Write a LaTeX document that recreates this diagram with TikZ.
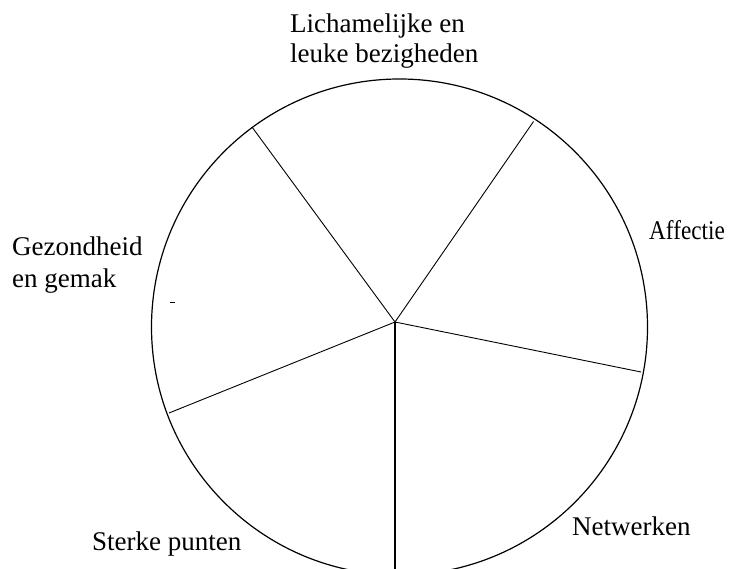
\documentclass[tikz,border=0pt]{standalone}
\usepackage{fontspec}
\setmainfont{Liberation Serif}
\begin{document}
\begin{tikzpicture}[x=1pt,y=-1pt,
  rim/.style={line width=1.2pt},
  spoke/.style={line width=0.9pt},
  mainspoke/.style={line width=2pt},
  lbl/.style={anchor=base west,inner sep=0pt,font=\fontsize{27}{31}\selectfont}]
\clip (0,0) rectangle (735,569);
\fill[white] (0,0) rectangle (735,569);
\coordinate (c) at (399.5,327);
\coordinate (hub) at (395,322);
\coordinate (ul) at (252,127);
\coordinate (ur) at (533.5,121.5);
\coordinate (r) at (641,372);
\coordinate (l) at (169,413);
\coordinate (b) at (395,580);
\draw[rim] (c) circle[radius=248];
\draw[spoke] (hub) -- (ul);
\draw[spoke] (hub) -- (ur);
\draw[spoke] (hub) -- (r);
\draw[spoke] (hub) -- (l);
\draw[mainspoke] (hub) -- (b);
\coordinate (m1) at (170,302);
\coordinate (m2) at (175,302);
\draw[line width=0.8pt] (m1) -- (m2);
\node[lbl] (t1) at (290,33) {Lichamelijke en};
\node[lbl] (t2) at (290,63) {leuke bezigheden};
\node[lbl] (t3) at (12,255) {Gezondheid};
\node[lbl] (t4) at (12,287) {en gemak};
\node[lbl] (t5) at (649,240) {\scalebox{0.86}[1]{Affectie}};
\node[lbl] (t6) at (572,535) {Netwerken};
\node[lbl] (t7) at (92,550) {Sterke punten};
\end{tikzpicture}
\end{document}
